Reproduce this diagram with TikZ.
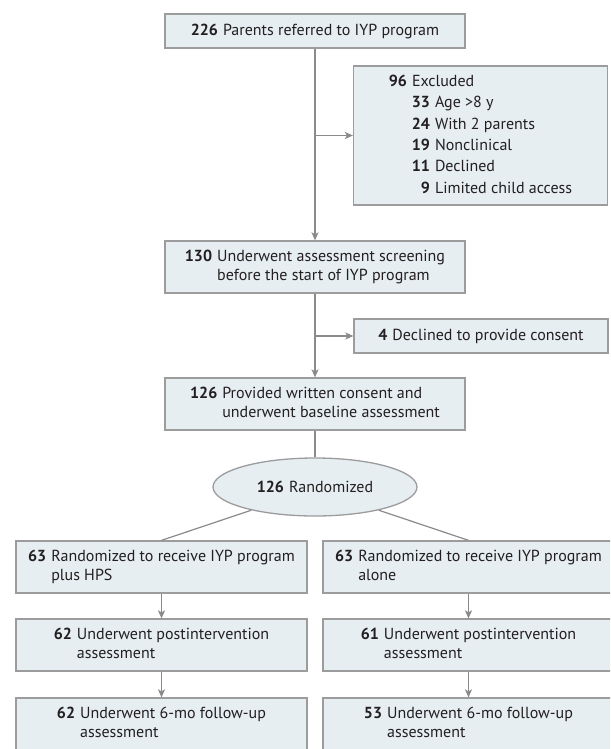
\documentclass[tikz,border=0pt]{standalone}
\usepackage{fontspec}
\setmainfont{PT Sans}
\usetikzlibrary{arrows.meta,shapes.geometric}
\usepackage{xcolor}
\definecolor{boxfill}{HTML}{E6EEF2}
\definecolor{boxline}{HTML}{9C9C9C}
\definecolor{linkline}{HTML}{8A8A8A}
\definecolor{textcol}{HTML}{231F20}

\begin{document}
\begin{tikzpicture}[x=1pt, y=-1pt,
  >={Stealth[length=8pt,width=7pt,inset=2pt]},
  box/.style={draw=boxline, fill=boxfill, line width=1.3pt, inner sep=0pt,
    text=textcol, font=\fontsize{16}{19}\selectfont},
  wide/.style={box, minimum width=300pt, minimum height=52pt},
  side/.style={box, minimum width=254pt},
  arm/.style={box, minimum width=291pt, minimum height=52pt},
  every edge/.style={draw=linkline, line width=1.2pt}]
  \useasboundingbox (0,0) rectangle (610,749);
  \clip (0,0) rectangle (610,749);
  \node[wide, minimum height=34pt] (T) at (315,31)
    {\textbf{226}\hspace{5pt}Parents referred to IYP program};
  \node[side, minimum height=139pt] (E) at (480.5,135.5)
    {\renewcommand{\arraystretch}{1.13}%
     \begin{tabular}{@{\hspace{23pt}}r@{\hspace{5pt}}l@{}}
       \multicolumn{2}{@{}l@{}}{\textbf{96}\hspace{5pt}Excluded}\\
       \textbf{33} & Age >8 y\\
       \textbf{24} & With 2 parents\\
       \textbf{19} & Nonclinical\\
       \textbf{11} & Declined\\
       \textbf{9} & Limited child access
     \end{tabular}};
  \node[wide] (S) at (315,267)
    {\begin{tabular}{@{}r@{\hspace{5pt}}l@{}}
       \textbf{130} & Underwent assessment screening\\
       & before the start of IYP program
     \end{tabular}};
  \node[side, minimum height=34pt] (D) at (481,336)
    {\textbf{4}\hspace{5pt}Declined to provide consent};
  \node[wide] (B) at (315,404)
    {\begin{tabular}{@{}r@{\hspace{5pt}}l@{}}
       \textbf{126} & Provided written consent and\\
       & underwent baseline assessment
     \end{tabular}};
  \node[box, ellipse, minimum width=204pt, minimum height=58pt] (R) at (315,487)
    {\textbf{126}\hspace{5pt}Randomized};
  \node[arm] (A1) at (161.5,567)
    {\begin{tabular}{@{}r@{\hspace{5pt}}l@{}}
       \textbf{63} & Randomized to receive IYP program\\
       & plus HPS
     \end{tabular}};
  \node[arm] (B1) at (468.5,567)
    {\begin{tabular}{@{}r@{\hspace{5pt}}l@{}}
       \textbf{63} & Randomized to receive IYP program\\
       & alone
     \end{tabular}};
  \node[arm] (A2) at (161.5,645)
    {\begin{tabular}{@{}r@{\hspace{5pt}}l@{}}
       \textbf{62} & Underwent postintervention\\
       & assessment
     \end{tabular}};
  \node[arm] (B2) at (468.5,645)
    {\begin{tabular}{@{}r@{\hspace{5pt}}l@{}}
       \textbf{61} & Underwent postintervention\\
       & assessment
     \end{tabular}};
  \node[arm] (A3) at (161.5,724)
    {\begin{tabular}{@{}r@{\hspace{5pt}}l@{}}
       \textbf{62} & Underwent 6-mo follow-up\\
       & assessment
     \end{tabular}};
  \node[arm] (B3) at (468.5,724)
    {\begin{tabular}{@{}r@{\hspace{5pt}}l@{}}
       \textbf{53} & Underwent 6-mo follow-up\\
       & assessment
     \end{tabular}};
  \path (T) edge[->] (S)
        (E.west -| T.south) edge[->] (E)
        (S) edge[->] (B)
        (D.west -| S.south) edge[->] (D)
        (B) edge (R)
        (R.200) edge (A1.north)
        (R.340) edge (B1.north)
        (A1) edge[->] (A2)
        (A2) edge[->] (A3)
        (B1) edge[->] (B2)
        (B2) edge[->] (B3);
\end{tikzpicture}
\end{document}
